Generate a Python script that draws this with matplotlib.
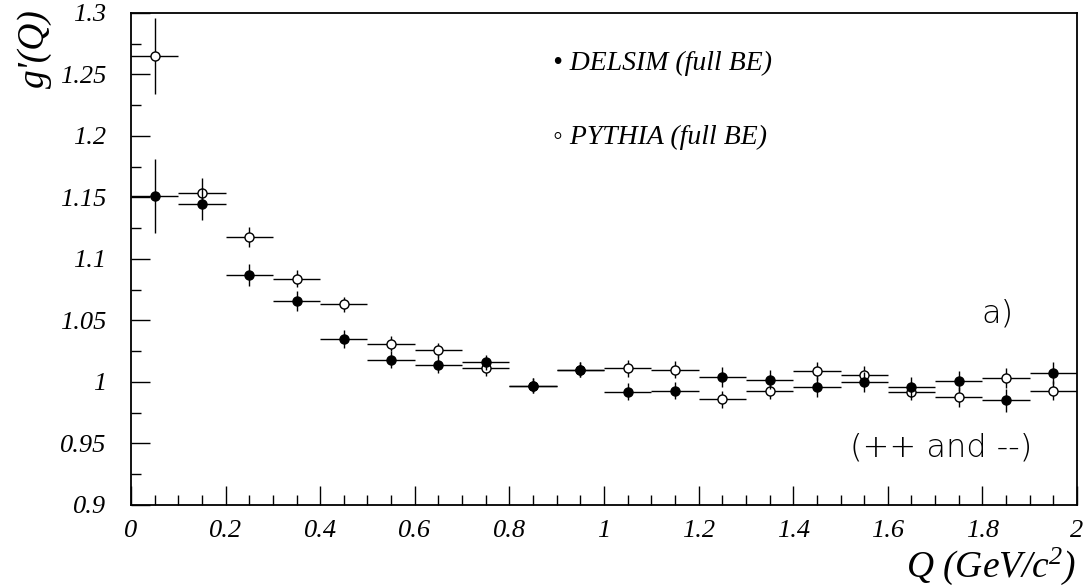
import matplotlib
matplotlib.use('Agg')
import matplotlib.pyplot as plt
from matplotlib.ticker import MultipleLocator

# Центры бинов по Q
q_bins = [0.05, 0.15, 0.25, 0.35, 0.45, 0.55, 0.65, 0.75, 0.85, 0.95,
          1.05, 1.15, 1.25, 1.35, 1.45, 1.55, 1.65, 1.75, 1.85, 1.95]
q_halfwidth = 0.05

# DELSIM (full BE) - закрашенные точки
delsim_g = [1.151, 1.145, 1.087, 1.066, 1.035, 1.018, 1.014, 1.016, 0.997, 1.010,
            0.992, 0.993, 1.004, 1.002, 0.996, 1.000, 0.996, 1.001, 0.985, 1.007]
delsim_err = [0.030, 0.013, 0.009, 0.008, 0.007, 0.007, 0.007, 0.006, 0.006, 0.006,
              0.007, 0.007, 0.008, 0.008, 0.008, 0.008, 0.008, 0.008, 0.009, 0.009]

# PYTHIA (full BE) - пустые точки
pythia_g = [1.265, 1.154, 1.118, 1.084, 1.063, 1.031, 1.026, 1.011, 0.997, 1.010,
            1.011, 1.010, 0.986, 0.993, 1.009, 1.006, 0.992, 0.988, 1.003, 0.993]
pythia_err = [0.031, 0.012, 0.008, 0.007, 0.006, 0.006, 0.006, 0.006, 0.006, 0.006,
              0.007, 0.007, 0.007, 0.007, 0.007, 0.007, 0.007, 0.008, 0.008, 0.008]

x_ticks = [0, 0.2, 0.4, 0.6, 0.8, 1, 1.2, 1.4, 1.6, 1.8, 2]
x_ticklabels = ['0', '0.2', '0.4', '0.6', '0.8', '1', '1.2', '1.4', '1.6', '1.8', '2']
y_ticks = [0.9, 0.95, 1.0, 1.05, 1.1, 1.15, 1.2, 1.25, 1.3]
y_ticklabels = ['0.9', '0.95', '1', '1.05', '1.1', '1.15', '1.2', '1.25', '1.3']

plt.rcParams['font.family'] = ['Liberation Serif', 'DejaVu Serif']
plt.rcParams['font.style'] = 'italic'
plt.rcParams['mathtext.fontset'] = 'custom'
plt.rcParams['mathtext.rm'] = 'Liberation Serif:italic'
plt.rcParams['mathtext.it'] = 'Liberation Serif:italic'

fig = plt.figure(figsize=(10.88, 5.87), dpi=100)
ax = fig.add_axes([0.1204, 0.1397, 0.8695, 0.8382])

# График
ax.errorbar(q_bins, pythia_g, xerr=q_halfwidth, yerr=pythia_err, fmt='o',
            ms=6.5, mfc='white', mec='black', mew=1.0, ecolor='black',
            elinewidth=1.0, capsize=0, zorder=3)
ax.errorbar(q_bins, delsim_g, xerr=q_halfwidth, yerr=delsim_err, fmt='o',
            ms=6.5, mfc='black', mec='black', mew=1.0, ecolor='black',
            elinewidth=1.0, capsize=0, zorder=4)

ax.set_xlim(0, 2)
ax.set_ylim(0.9, 1.3)

ax.xaxis.set_minor_locator(MultipleLocator(0.05))
ax.yaxis.set_minor_locator(MultipleLocator(0.025))
ax.tick_params(which='both', direction='in', top=False, right=False, width=1.0)
ax.tick_params(which='major', length=14)
ax.tick_params(which='minor', length=7)
ax.tick_params(axis='x', which='major', pad=11)
ax.tick_params(axis='y', which='major', pad=18)

ax.set_xticks(x_ticks)
ax.set_xticklabels(x_ticklabels, fontsize=19)
ax.set_yticks(y_ticks)
ax.set_yticklabels(y_ticklabels, fontsize=19)
for lbl in ax.get_xticklabels() + ax.get_yticklabels():
    lbl.set_fontstyle('italic')

for s in ax.spines.values():
    s.set_linewidth(1.3)

# Подписи осей
fig.text(0.032, 0.985, "g'(Q)", rotation=90, ha='center', va='top',
         fontsize=27)
fig.text(0.989, 0.0, r'Q (GeV/c$^{2}$)', ha='right', va='bottom',
         fontsize=27)

# Легенда
ax.text(0.893, 1.259, u'\u2022 DELSIM (full BE)', fontsize=20,
        va='center', ha='left')
ax.text(0.893, 1.199, u'\u25e6 PYTHIA (full BE)', fontsize=20,
        va='center', ha='left')

ax.text(1.831, 1.056, 'a)', fontsize=23, family='DejaVu Sans', style='normal',
        fontweight='light', va='center', ha='center')
ax.text(1.712, 0.947, '(++ and --)', fontsize=23, family='DejaVu Sans',
        style='normal', fontweight='light', va='center', ha='center')

plt.savefig('out.png', dpi=100)
plt.close()
